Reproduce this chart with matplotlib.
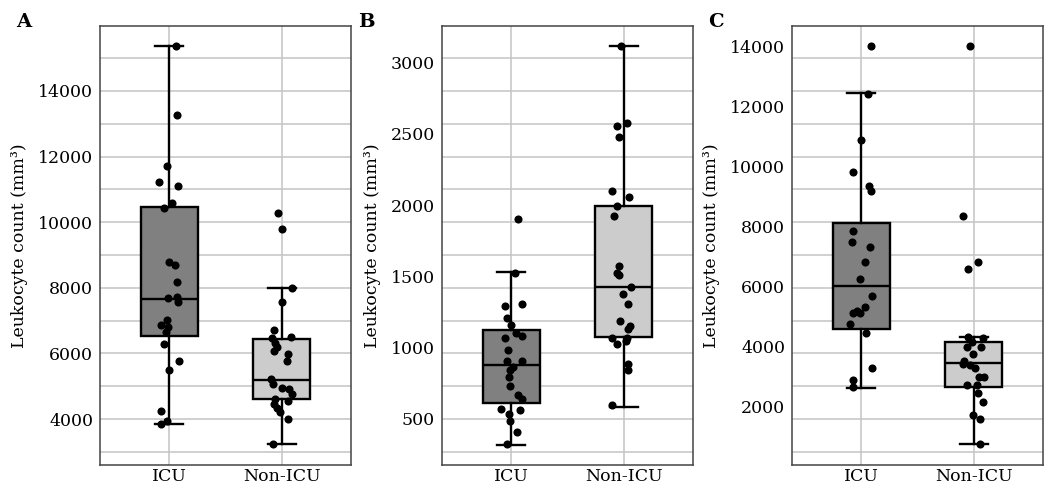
import numpy as np
import matplotlib.pyplot as plt

plt.rcParams['font.family'] = ['DejaVu Serif']

groups = ['ICU', 'Non-ICU']
ylabel = 'Leukocyte count (mm³)'

# ---- panel A ----
a_icu = [15372, 13259, 11704, 11216, 11104, 10576, 10443, 8796, 8695, 8186,
         7698, 7729, 7558, 7018, 6857, 6805, 6643, 6296, 5777, 5494, 4253,
         3948, 3857]
a_icu_dx = [0.059, 0.065, -0.018, -0.091, 0.074, 0.021, -0.047, 0.0, 0.05,
            0.065, -0.012, 0.065, 0.08, -0.018, -0.077, -0.012, -0.027,
            -0.047, 0.088, 0.0, -0.074, -0.024, -0.08]
a_non = [10290, 9783, 8003, 7558, 6713, 6460, 6500, 6327, 6204, 6082, 5982,
         5759, 5220, 5064, 4942, 4924, 4772, 4537, 4600, 4457, 4326, 4204,
         4000, 3238]
a_non_dx = [-0.032, 0.0, 0.097, 0.006, -0.071, -0.088, 0.083, -0.059, -0.038,
            -0.065, 0.059, 0.05, -0.097, -0.074, 0.003, 0.068, 0.091, 0.062,
            -0.062, -0.071, -0.038, -0.018, 0.062, -0.074]
# whislo, q1, median, q3, whishi
a_box_icu = [3857, 6530, 7660, 10450, 15370]
a_box_non = [3238, 4610, 5200, 6450, 8000]

# ---- panel B ----
b_icu = [1899, 1519, 1289, 1301, 1206, 1155, 1101, 1080, 1061, 977, 899, 899,
         857, 838, 791, 723, 660, 634, 565, 531, 554, 477, 399, 315]
b_icu_dx = [0.062, 0.035, -0.056, 0.094, -0.044, 0.0, 0.041, 0.091, -0.056,
            -0.029, -0.038, 0.091, 0.012, -0.015, -0.024, -0.015, 0.062,
            0.091, -0.097, -0.021, 0.08, -0.015, 0.05, -0.041]
b_non = [3120, 2556, 2580, 2477, 2101, 2054, 1993, 1923, 1568, 1523, 1507,
         1420, 1371, 1300, 1185, 1148, 1127, 1061, 1023, 1065, 1044, 878, 840,
         589]
b_non_dx = [-0.027, -0.056, 0.035, -0.044, -0.106, 0.047, -0.056, -0.088,
            -0.038, -0.062, -0.038, 0.065, -0.009, 0.044, -0.029, 0.059,
            0.038, -0.103, -0.059, 0.029, 0.024, 0.041, 0.041, -0.103]
b_box_icu = [312, 603, 875, 1117, 1530]
b_box_non = [580, 1068, 1420, 1993, 3120]

# ---- panel C ----
c_icu = [13990, 12416, 10865, 9812, 9356, 9190, 7850, 7474, 7308, 6830, 6265,
         5700, 5334, 5135, 5191, 5135, 4759, 4470, 3306, 2898, 2665]
c_icu_dx = [0.088, 0.059, 0.0, -0.074, 0.071, 0.088, -0.077, -0.088, 0.074,
            0.032, -0.009, 0.091, 0.032, -0.077, -0.044, -0.012, -0.1, 0.041,
            0.091, -0.077, -0.077]
c_non = [13990, 8349, 6830, 6577, 4327, 4294, 4171, 4005, 3984, 3762, 3529,
         3419, 3396, 3286, 3007, 3007, 2721, 2721, 2475, 2156, 1724, 1601, 770]
c_non_dx = [-0.029, -0.091, 0.041, -0.053, -0.053, 0.083, -0.015, -0.059,
            0.068, -0.003, -0.083, -0.097, -0.032, 0.012, 0.053, 0.091,
            -0.059, 0.027, 0.041, 0.083, -0.006, 0.059, 0.059]
c_box_icu = [2642, 4583, 6022, 8116, 12438]
c_box_non = [780, 2675, 3453, 4161, 4327]

panels = [
    ('A', a_icu, a_icu_dx, a_non, a_non_dx, a_box_icu, a_box_non,
     (2600, 15980), np.arange(4000, 14001, 2000)),
    ('B', b_icu, b_icu_dx, b_non, b_non_dx, b_box_icu, b_box_non,
     (170, 3260), np.arange(500, 3001, 500)),
    ('C', c_icu, c_icu_dx, c_non, c_non_dx, c_box_icu, c_box_non,
     (70, 14665), np.arange(2000, 14001, 2000)),
]

# the background grid sits at the same heights in every panel (panel A's 1000 steps)
ylim_a = panels[0][7]
grid_frac = (np.arange(3000, 15001, 1000) - ylim_a[0]) / (ylim_a[1] - ylim_a[0])

lefts = [100, 442, 792]
W, H = 1050, 488
fig = plt.figure(figsize=(W / 100, H / 100), dpi=100)


def stats(s):
    return dict(whislo=s[0], q1=s[1], med=s[2], q3=s[3], whishi=s[4])


for (letter, v1, d1, v2, d2, s1, s2, ylim, yt), left in zip(panels, lefts):
    ax = fig.add_axes([left / W, (H - 465) / H, 251 / W, 439 / H])
    ax.set_xlim(-0.62, 1.62)
    ax.set_ylim(*ylim)

    ax.hlines(grid_frac, 0, 1, transform=ax.transAxes, color='#c4c4c4',
              lw=1.1, zorder=0)
    ax.axvline(0, color='#c4c4c4', lw=1.1, zorder=0)
    ax.axvline(1, color='#c4c4c4', lw=1.1, zorder=0)

    lp = dict(color='black', lw=1.7)
    bp = ax.bxp([stats(s1), stats(s2)], positions=[0, 1], widths=0.51,
                capwidths=0.25, showfliers=False, patch_artist=True,
                boxprops=dict(edgecolor='black', lw=1.7),
                medianprops=lp, whiskerprops=lp, capprops=lp)
    for patch, fc in zip(bp['boxes'], ['#808080', '#cccccc']):
        patch.set_facecolor(fc)

    ax.scatter(np.array(d1), v1, s=34, color='black', zorder=4, lw=0)
    ax.scatter(1 + np.array(d2), v2, s=34, color='black', zorder=4, lw=0)

    ax.set_xticks([0, 1])
    ax.set_xticklabels(groups)
    ax.set_yticks(yt)
    ax.tick_params(length=0, labelsize=12.5)
    ax.tick_params(axis='y', pad=5)
    ax.tick_params(axis='x', pad=2)
    ax.set_ylabel(ylabel, fontsize=12.5, labelpad=7)
    for sp in ax.spines.values():
        sp.set_color('#444444')
        sp.set_linewidth(1.1)

    fig.text((left - 84) / W, 1 - 27 / H, letter, fontsize=14,
             fontweight='bold', va='baseline')

fig.savefig('out.png', dpi=100)
